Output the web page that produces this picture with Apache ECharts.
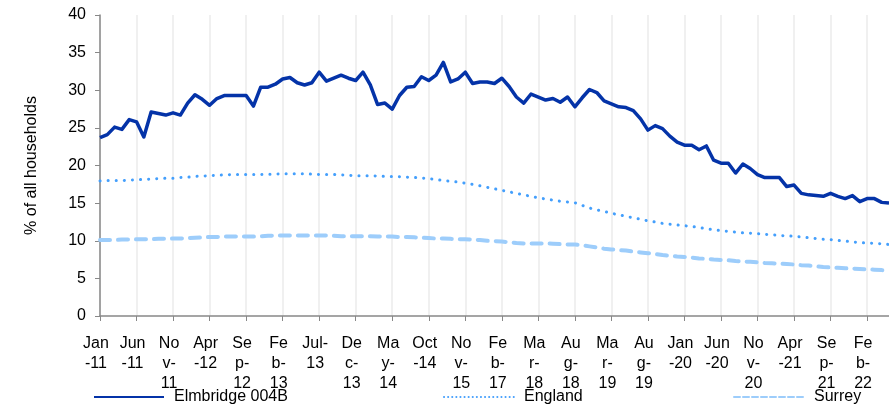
<!DOCTYPE html>
<html>
<head>
<meta charset="utf-8">
<script src="https://cdn.jsdelivr.net/npm/echarts@6/dist/echarts.min.js"></script>
<style>
  html, body { margin: 0; padding: 0; background: #fff; }
  #chart { width: 889px; height: 410px; }
</style>
</head>
<body>
<div id="chart"></div>
<script>
// categories (irregular spacing between late 2014 and 2019, as in the source)
var categories = [
    'Jan-11','Feb-11','Mar-11','Apr-11','May-11','Jun-11','Jul-11','Aug-11','Sep-11','Oct-11','Nov-11','Dec-11',
    'Jan-12','Feb-12','Mar-12','Apr-12','May-12','Jun-12','Jul-12','Aug-12','Sep-12','Oct-12','Nov-12','Dec-12',
    'Jan-13','Feb-13','Mar-13','Apr-13','May-13','Jun-13','Jul-13','Aug-13','Sep-13','Oct-13','Nov-13','Dec-13',
    'Jan-14','Feb-14','Mar-14','Apr-14','May-14','Jun-14','Jul-14','Aug-14','Sep-14','Oct-14',
    'Jan-15','Apr-15','Jul-15','Oct-15','Nov-15','Feb-16','May-16','Aug-16','Nov-16','Feb-17',
    'May-17','Aug-17','Nov-17','Feb-18','Mar-18','Apr-18','May-18','Jun-18','Jul-18','Aug-18',
    'Sep-18','Nov-18','Dec-18','Feb-19','Mar-19','Apr-19','May-19','Jun-19','Jul-19','Aug-19',
    'Sep-19','Oct-19','Nov-19','Dec-19',
    'Jan-20','Feb-20','Mar-20','Apr-20','May-20','Jun-20','Jul-20','Aug-20','Sep-20','Oct-20','Nov-20','Dec-20',
    'Jan-21','Feb-21','Mar-21','Apr-21','May-21','Jun-21','Jul-21','Aug-21','Sep-21','Oct-21','Nov-21','Dec-21',
    'Jan-22','Feb-22','Mar-22','Apr-22','May-22'
];

var elmbridge = [
    23.7, 24.1, 25.1, 24.8, 26.1, 25.8, 23.8, 27.1, 26.9, 26.7,
    27.0, 26.7, 28.3, 29.4, 28.8, 28.0, 28.9, 29.3, 29.3, 29.3,
    29.3, 27.9, 30.4, 30.4, 30.8, 31.5, 31.7, 31.0, 30.7, 31.0,
    32.4, 31.2, 31.6, 32.0, 31.6, 31.3, 32.4, 30.7, 28.1, 28.3,
    27.5, 29.3, 30.4, 30.5, 31.8, 31.3, 32.0, 33.7, 31.1, 31.5,
    32.4, 30.9, 31.1, 31.1, 30.9, 31.6, 30.5, 29.1, 28.3, 29.5,
    29.1, 28.7, 28.9, 28.4, 29.1, 27.8, 29.0, 30.1, 29.7, 28.6,
    28.2, 27.8, 27.7, 27.3, 26.2, 24.7, 25.3, 24.9, 23.9, 23.1,
    22.7, 22.7, 22.1, 22.6, 20.7, 20.3, 20.3, 19.0, 20.2, 19.6,
    18.8, 18.4, 18.4, 18.4, 17.2, 17.4, 16.3, 16.1, 16.0, 15.9,
    16.3, 15.9, 15.6, 16.0, 15.2, 15.6, 15.6, 15.1, 15.0
];

var england = [
    17.95, 18.0, 18.0, 18.0, 18.05, 18.1, 18.15, 18.2, 18.25, 18.3,
    18.3, 18.4, 18.45, 18.55, 18.6, 18.65, 18.7, 18.75, 18.8, 18.8,
    18.8, 18.8, 18.8, 18.85, 18.85, 18.9, 18.9, 18.9, 18.9, 18.85,
    18.8, 18.8, 18.8, 18.75, 18.7, 18.65, 18.65, 18.65, 18.6, 18.55,
    18.55, 18.5, 18.45, 18.4, 18.35, 18.25, 18.15, 18.0, 17.9, 17.8,
    17.65, 17.5, 17.3, 17.1, 16.9, 16.7, 16.5, 16.3, 16.1, 15.9,
    15.7, 15.55, 15.4, 15.25, 15.15, 15.05, 14.7, 14.35, 14.1, 13.9,
    13.65, 13.45, 13.25, 13.05, 12.85, 12.65, 12.5, 12.3, 12.2, 12.1,
    12.0, 11.9, 11.75, 11.6, 11.45, 11.35, 11.25, 11.15, 11.05, 11.0,
    10.95, 10.85, 10.8, 10.7, 10.65, 10.6, 10.5, 10.4, 10.3, 10.2,
    10.15, 10.05, 9.95, 9.85, 9.75, 9.7, 9.65, 9.6, 9.5
];

var surrey = [
    10.1, 10.1, 10.1, 10.15, 10.15, 10.2, 10.2, 10.2, 10.25, 10.25,
    10.3, 10.3, 10.35, 10.4, 10.45, 10.5, 10.5, 10.55, 10.55, 10.55,
    10.55, 10.55, 10.6, 10.65, 10.7, 10.7, 10.7, 10.7, 10.7, 10.7,
    10.7, 10.7, 10.65, 10.6, 10.6, 10.6, 10.6, 10.6, 10.55, 10.55,
    10.55, 10.5, 10.5, 10.45, 10.4, 10.35, 10.3, 10.3, 10.25, 10.2,
    10.2, 10.15, 10.1, 10.0, 9.95, 9.9, 9.8, 9.7, 9.65, 9.65,
    9.65, 9.65, 9.6, 9.55, 9.5, 9.5, 9.4, 9.25, 9.1, 8.95,
    8.85, 8.75, 8.7, 8.55, 8.45, 8.35, 8.25, 8.1, 8.0, 7.9,
    7.85, 7.75, 7.65, 7.6, 7.5, 7.45, 7.4, 7.3, 7.25, 7.2,
    7.15, 7.05, 7.0, 6.95, 6.9, 6.85, 6.75, 6.7, 6.6, 6.5,
    6.45, 6.4, 6.35, 6.3, 6.25, 6.2, 6.15, 6.1, 6.05
];

var yTicks = [0, 5, 10, 15, 20, 25, 30, 35, 40];

var FONT = "'Liberation Sans', Arial, sans-serif";

// wrap a label the way the spreadsheet did: break after '-' if possible, else by character
var measureCtx = document.createElement('canvas').getContext('2d');
measureCtx.font = "16px " + FONT;
function wrapLabel(text, maxW) {
    var tokens = text.match(/[^-]*-|[^-]+$/g) || [text];
    var lines = [];
    var cur = '';
    tokens.forEach(function (tok) {
        if (measureCtx.measureText(cur + tok).width <= maxW) {
            cur += tok;
            return;
        }
        if (cur) { lines.push(cur); cur = ''; }
        if (measureCtx.measureText(tok).width <= maxW) {
            cur = tok;
            return;
        }
        for (var i = 0; i < tok.length; i++) {
            var c = tok.charAt(i);
            if (cur && measureCtx.measureText(cur + c).width > maxW) {
                lines.push(cur);
                cur = '';
            }
            cur += c;
        }
    });
    if (cur) lines.push(cur);
    return lines.join('\n');
}

var myEcharts = echarts.init(document.getElementById('chart'), null, { renderer: 'canvas' });

// one legend per series so each can sit where the original puts it
function legendAt(name, left, width, lineStyle) {
    return {
        data: [name],
        left: left,
        top: 389,
        padding: 0,
        itemWidth: width,
        itemHeight: 14,
        lineStyle: lineStyle,
        itemStyle: { opacity: 0, borderWidth: 0 },
        textStyle: { fontFamily: FONT, fontSize: 16, color: '#000', padding: [0, 0, 0, 5] },
        selectedMode: false
    };
}

var option = {
    animation: false,
    backgroundColor: '#fff',
    textStyle: { fontFamily: FONT },
    grid: { left: 100, top: 15, width: 792, height: 301 },
    legend: [
        legendAt('Elmbridge 004B', 93, 70, { width: 2 }),
        legendAt('England', 443, 70, { width: 2, type: [0.1, 4], cap: 'round' }),
        legendAt('Surrey', 733, 70, { width: 2, type: [6, 3] })
    ],
    xAxis: {
        type: 'category',
        data: categories,
        boundaryGap: false,
        axisLine: { lineStyle: { color: '#888', width: 1.5 } },
        axisTick: { show: true, interval: 4, length: 5, lineStyle: { color: '#888' } },
        splitLine: { show: true, interval: 4, lineStyle: { color: '#ebebeb', width: 1.5 } },
        axisLabel: {
            interval: 4,
            fontSize: 16,
            lineHeight: 20,
            color: '#000',
            margin: 18,
            padding: [0, 8, 0, 0],
            formatter: function (v) { return wrapLabel(v, 27); }
        }
    },
    yAxis: {
        type: 'value',
        min: yTicks[0],
        max: yTicks[yTicks.length - 1],
        interval: 5,
        name: '% of all households',
        nameLocation: 'middle',
        nameGap: 60,
        nameTextStyle: { fontSize: 16, color: '#000' },
        axisLine: { show: true, lineStyle: { color: '#888', width: 1.5 } },
        axisTick: { show: true, length: 5, lineStyle: { color: '#888' } },
        splitLine: { show: false },
        axisLabel: { fontSize: 16, color: '#000', margin: 14 }
    },
    series: [
        {
            name: 'Surrey',
            type: 'line',
            data: surrey,
            symbol: 'none',
            z: 2,
            lineStyle: { color: '#9dcdfb', width: 4, type: [10, 8], cap: 'round' },
            itemStyle: { color: '#9dcdfb' }
        },
        {
            name: 'England',
            type: 'line',
            data: england,
            symbol: 'none',
            z: 3,
            lineStyle: { color: '#449ffc', width: 3, type: [0.1, 8], cap: 'round' },
            itemStyle: { color: '#449ffc' }
        },
        {
            name: 'Elmbridge 004B',
            type: 'line',
            data: elmbridge,
            symbol: 'none',
            z: 4,
            lineStyle: { color: '#0433a8', width: 3.5, join: 'round' },
            itemStyle: { color: '#0433a8' }
        }
    ]
};

myEcharts.setOption(option);
</script>
</body>
</html>
